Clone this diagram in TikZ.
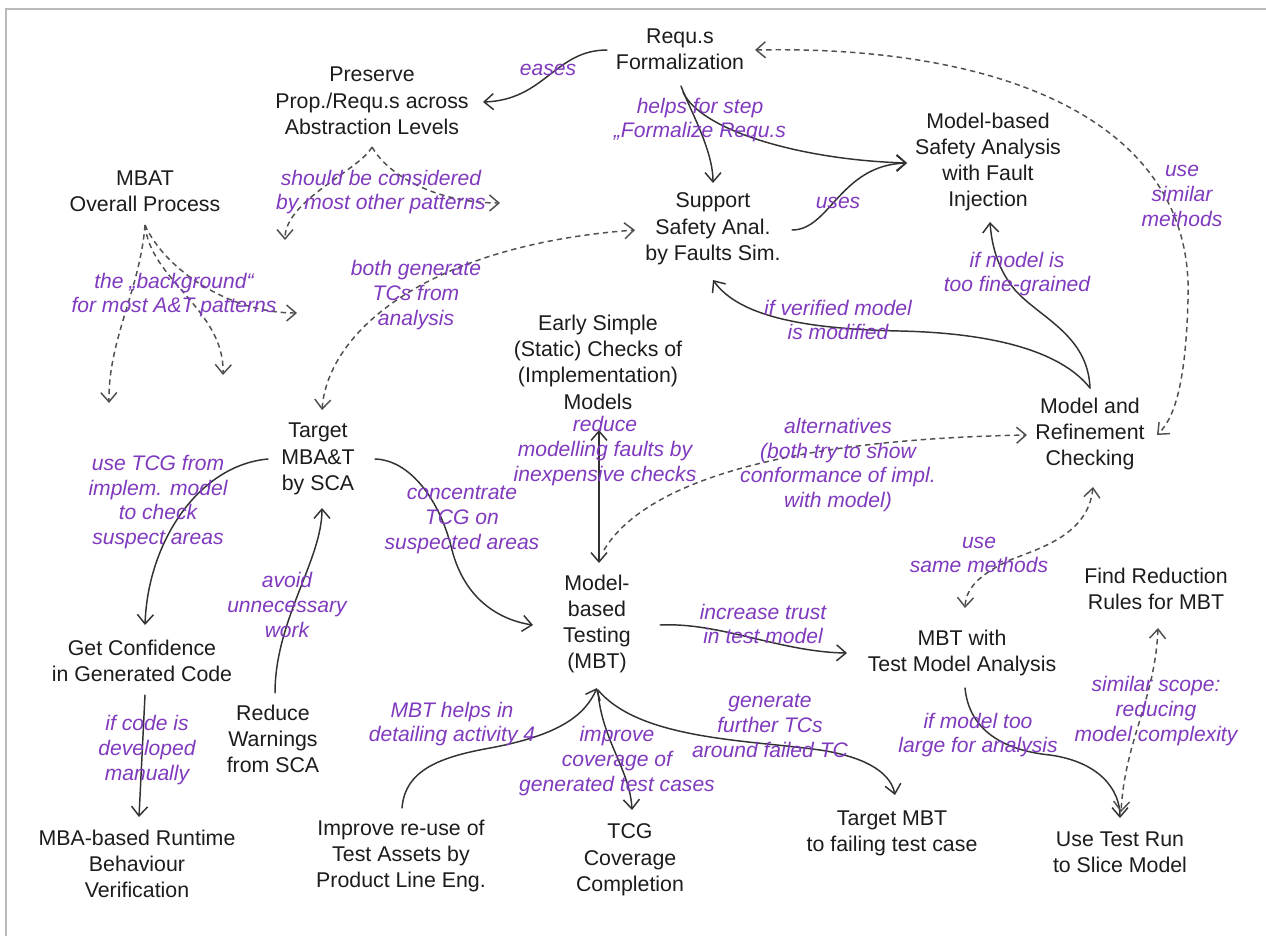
\documentclass[tikz,border=0pt]{standalone}
\usepackage{fontspec}
\setmainfont{Liberation Sans}
\usetikzlibrary{arrows.meta,calc}
\definecolor{ink}{RGB}{28,28,28}
\definecolor{wire}{RGB}{50,50,50}
\definecolor{dashwire}{RGB}{80,80,80}
\definecolor{annot}{RGB}{128,58,190}
\definecolor{rim}{RGB}{185,185,185}
\begin{document}
\begin{tikzpicture}[x=0.75pt,y=-0.75pt,
  pnode/.style={align=center,text=ink,inner sep=1pt,font=\fontsize{16}{19.7}\selectfont},
  lbl/.style={align=center,text=annot,inner sep=1pt,font=\fontsize{15.8}{18.6}\selectfont\itshape},
  tip/.tip={Straight Barb[length=7pt,width=12pt]},
  solidarrow/.style={draw=wire,line width=1.1pt,line cap=round,-tip},
  solidboth/.style={draw=wire,line width=1.1pt,line cap=round,tip-tip},
  dasharrow/.style={draw=dashwire,line width=1.1pt,dash pattern=on 4pt off 3pt,-tip},
  dashboth/.style={draw=dashwire,line width=1.1pt,dash pattern=on 4pt off 3pt,tip-tip}]

\useasboundingbox (0,0) rectangle (1266,936);
\fill[white] (0,0) rectangle (1266,936);
\draw[rim,line width=2.2pt] (6,936) -- (6,9) -- (1266,9);

% patterns
\node[pnode] (req)   at (680,49)  {Requ.s\\Formalization};
\node[pnode] (pres)  at (372,101) {Preserve\\Prop./Requ.s across\\Abstraction Levels};
\node[pnode] (mbat)  at (145,191) {MBAT\\Overall Process};
\node[pnode] (mbsa)  at (988,162) {Model-based\\Safety Analysis\\with Fault\\Injection};
\node[pnode] (sup)   at (713,229) {Support\\Safety Anal.\\by Faults Sim.};
\node[pnode] (early) at (598,362) {Early Simple\\(Static) Checks of\\(Implementation)\\Models};
\node[pnode] (mrc)   at (1090,434) {Model and\\Refinement\\Checking};
\node[pnode] (tgt)   at (318,459) {Target\\MBA\&T\\by SCA};
\node[pnode] (mbt)   at (597,624) {Model-\\based\\Testing\\(MBT)};
\node[pnode] (conf)  at (142,661) {Get Confidence\\in Generated Code};
\node[pnode] (redw)  at (273,739) {Reduce\\Warnings\\from SCA};
\node[pnode] (mbart) at (137,864) {MBA-based Runtime\\Behaviour\\Verification};
\node[pnode] (impr)  at (401,856) {Improve re-use of\\Test Assets by\\Product Line Eng.};
\node[pnode] (tcg)   at (630,860) {TCG\\Coverage\\Completion};
\node[pnode] (tmbt)  at (892,833) {Target MBT\\to failing test case};
\node[pnode] (tma)   at (962,653) {MBT with\\Test Model Analysis};
\node[pnode] (frr)   at (1156,589) {Find Reduction\\Rules for MBT};
\node[pnode] (utr)   at (1120,852) {Use Test Run\\to Slice Model};

% free ends of the two fan-outs
\coordinate (presA) at (285,240);
\coordinate (presB) at (500,203);
\coordinate (mbatA) at (109,403);
\coordinate (mbatB) at (223,375);
\coordinate (mbatC) at (297,313);

% relations
\draw[solidarrow] ($(req)+(-73,1)$) .. controls (555,50) and (545,100) .. ($(pres)+(111,1)$);
\draw[solidarrow] ($(req)+(1,37)$) .. controls (690,110) and (713,150) .. ($(sup)+(0,-46)$);
\draw[solidarrow] ($(req)+(3,43)$) .. controls (700,130) and (800,160) .. ($(mbsa)+(-81,1)$);
\draw[solidarrow] ($(sup)+(79,1)$) .. controls (830,230) and (840,165) .. ($(mbsa)+(-81,1)$);

\draw[dasharrow] ($(pres)+(0,46)$) .. controls (360,170) and (285,200) .. (presA);
\draw[dasharrow] ($(pres)+(0,46)$) .. controls (390,178) and (440,203) .. (presB);

\draw[dasharrow] ($(mbat)+(0,34)$) .. controls (140,290) and (108,340) .. (mbatA);
\draw[dasharrow] ($(mbat)+(0,34)$) .. controls (150,280) and (225,310) .. (mbatB);
\draw[dasharrow] ($(mbat)+(0,34)$) .. controls (165,270) and (230,313) .. (mbatC);

\draw[dashboth] ($(tgt)+(4,-49)$) .. controls (328,330) and (430,245) .. ($(sup)+(-78,1)$);

\draw[solidarrow] ($(mrc)+(0,-46)$) .. controls (1060,350) and (990,333) .. (900,331)
  .. controls (810,329) and (740,318) .. ($(sup)+(0,51)$);
\draw[solidarrow] ($(mrc)+(0,-46)$) .. controls (1088,335) and (1040,318) .. (1015,290)
  .. controls (1000,272) and (992,250) .. ($(mbsa)+(2,60)$);

\draw[dashboth] ($(req)+(75,1)$) .. controls (1000,45) and (1195,120) .. (1188,300)
  .. controls (1186,370) and (1178,415) .. ($(mrc)+(67,1)$);

\draw[solidboth] ($(early)+(1,68)$) -- ($(mbt)+(2,-61)$);
\draw[dasharrow] ($(mbt)+(7,-74)$) .. controls (640,490) and (760,440) .. ($(mrc)+(-63,1)$);

\draw[solidarrow] ($(tgt)+(-50,0)$) .. controls (200,465) and (148,540) .. ($(conf)+(3,-36)$);
\draw[solidarrow] ($(tgt)+(57,0)$) .. controls (410,460) and (440,500) .. (452,550)
  .. controls (465,600) and (500,620) .. ($(mbt)+(-64,1)$);
\draw[solidarrow] ($(redw)+(2,-46)$) .. controls (275,620) and (322,560) .. ($(tgt)+(4,49)$);
\draw[solidarrow] ($(conf)+(3,34)$) -- ($(mbart)+(2,-47)$);

\draw[solidarrow] ($(impr)+(1,-48)$) .. controls (405,770) and (440,757) .. (490,748)
  .. controls (560,735) and (585,715) .. ($(mbt)+(0,64)$);
\draw[solidarrow] ($(mbt)+(1,68)$) .. controls (602,740) and (630,770) .. ($(tcg)+(2,-50)$);
\draw[solidarrow] ($(mbt)+(1,66)$) .. controls (640,740) and (750,740) .. (820,750)
  .. controls (860,756) and (890,770) .. ($(tmbt)+(3,-38)$);
\draw[solidarrow] ($(mbt)+(63,1)$) .. controls (720,622) and (780,652) .. ($(tma)+(-115,0)$);

\draw[dashboth] ($(mrc)+(3,53)$) .. controls (1088,535) and (1040,548) .. (1010,560)
  .. controls (985,572) and (966,585) .. ($(tma)+(3,-45)$);
\draw[solidarrow] ($(tma)+(3,35)$) .. controls (970,740) and (1020,752) .. (1050,755)
  .. controls (1100,762) and (1120,790) .. ($(utr)+(0,-34)$);
\draw[dashboth] ($(frr)+(2,39)$) .. controls (1155,700) and (1125,740) .. ($(utr)+(1,-40)$);

% relation labels
\node[lbl] (l-eases)   at (548,70)  {eases};
\node[lbl] (l-helps)   at (700,120) {helps for step\\„Formalize Requ.s};
\node[lbl] (l-should)  at (381,192) {should be considered\\by most other patterns};
\node[lbl] (l-uses)    at (838,203) {uses};
\node[lbl] (l-simm)    at (1182,196) {use\\similar\\methods};
\node[lbl] (l-backgr)  at (174,295) {the „background“\\for most A\&T patterns};
\node[lbl] (l-bothgen) at (416,295) {both generate\\TCs from\\analysis};
\node[lbl] (l-fine)    at (1017,274) {if model is\\too fine-grained};
\node[lbl] (l-verif)   at (838,320) {if verified model\\is modified};
\node[lbl] (l-reduce)  at (605,451) {reduce\\modelling faults by\\inexpensive checks};
\node[lbl] (l-altern)  at (838,465) {alternatives\\(both try to show\\conformance of impl.\\with model)};
\node[lbl] (l-usetcg)  at (158,502) {use TCG from\\implem. model\\to check\\suspect areas};
\node[lbl] (l-conc)    at (462,520) {concentrate\\TCG on\\suspected areas};
\node[lbl] (l-avoid)   at (287,605) {avoid\\unnecessary\\work};
\node[lbl] (l-same)    at (979,555) {use\\same methods};
\node[lbl] (l-trust)   at (763,624) {increase trust\\in test model};
\node[lbl] (l-scope)   at (1156,711) {similar scope:\\reducing\\model complexity};
\node[lbl] (l-large)   at (978,735) {if model too\\large for analysis};
\node[lbl] (l-code)    at (147,750) {if code is\\developed\\manually};
\node[lbl] (l-detail)  at (452,724) {MBT helps in\\detailing activity 4};
\node[lbl] (l-improve) at (617,761) {improve\\coverage of\\generated test cases};
\node[lbl] (l-further) at (770,726) {generate\\further TCs\\around failed TC};

\end{tikzpicture}
\end{document}
